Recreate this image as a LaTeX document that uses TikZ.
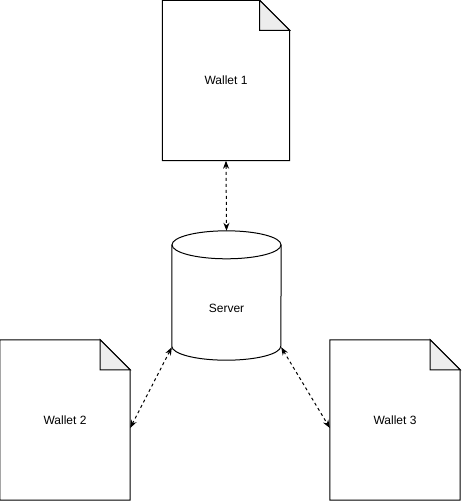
\documentclass[tikz,border=0pt]{standalone}
\usepackage{fontspec}
\setmainfont{Liberation Sans}
\usetikzlibrary{arrows.meta}

\tikzset{
  wallet/.style={minimum width=130pt, minimum height=160pt, inner sep=0pt},
  outline/.style={line width=1pt, line join=miter},
  fold/.style={outline, fill=black!7},
  link/.style={line width=1pt, dash pattern=on 3pt off 3pt,
    {Stealth[length=8pt,width=6pt,inset=2.5pt]}-{Stealth[length=8pt,width=6pt,inset=2.5pt]}}
}

\begin{document}
\begin{tikzpicture}[x=1pt, y=-1pt, font=\fontsize{12}{14}\selectfont]
    \useasboundingbox (0,0) rectangle (461,501);

    % wallets
    \node (w1) [wallet, minimum width=127pt] at (226,80.5) {Wallet 1};
    \node (w2) [wallet] at (65,420) {Wallet 2};
    \node (w3) [wallet] at (395,420) {Wallet 3};

    \foreach \w in {w1,w2,w3} {
      \draw [outline] (\w.south west) -- (\w.north west) -- ([xshift=-30pt]\w.north east)
        -- ([yshift=-30pt]\w.north east) -- (\w.south east) -- cycle;
      \draw [fold] ([xshift=-30pt]\w.north east) -- ([xshift=-30pt,yshift=-30pt]\w.north east)
        -- ([yshift=-30pt]\w.north east) -- cycle;
    }

    % server
    \node (srv) [minimum width=109pt, minimum height=129pt, inner sep=0pt] at (226.5,295.5) {};
    \draw [outline] ([yshift=-14pt]srv.north) ellipse (54.5pt and 14pt);
    \draw [outline] ([yshift=-14pt]srv.north west) -- ([yshift=14pt]srv.south west)
      arc (180:360:54.5pt and 14pt) -- ([yshift=-14pt]srv.north east);
    \node (srvtxt) at (226.5,308) {Server};

    \coordinate (srvl) at ([yshift=13pt]srv.south west);
    \coordinate (srvr) at ([yshift=13pt]srv.south east);
    \coordinate (w2in) at ([yshift=-8pt]w2.east);
    \coordinate (w3in) at ([yshift=-8pt]w3.west);

    % links
    \draw [link] (w1.south) -- (srv.north);
    \draw [link] (srvl) -- (w2in);
    \draw [link] (srvr) -- (w3in);
\end{tikzpicture}
\end{document}
